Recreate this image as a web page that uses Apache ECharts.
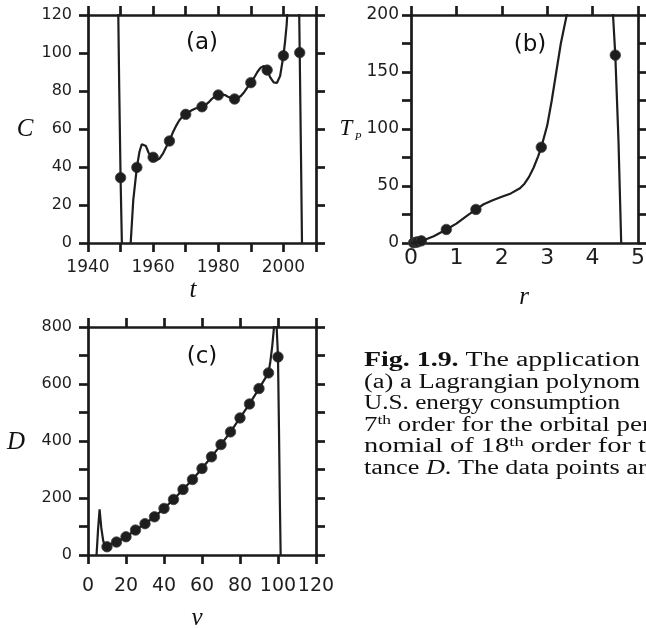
<!DOCTYPE html>
<html>
<head>
<meta charset="utf-8">
<script src="https://cdn.jsdelivr.net/npm/echarts@6/dist/echarts.min.js"></script>
<style>
html,body{margin:0;padding:0;background:#fff;}
#chart{width:646px;height:628px;}
</style>
</head>
<body>
<div id="chart"></div>
<script>
// (a) U.S. energy consumption
var aYears = [1950, 1955, 1960, 1965, 1970, 1975, 1980, 1985, 1990, 1995, 2000, 2005];
var aValues = [34.4, 39.8, 45.1, 53.7, 67.7, 71.7, 77.9, 75.8, 84.4, 91.0, 98.6, 100.2];
// Lagrange curve
var aCurveT = [1948.8, 1949.3, 1949.6, 1950, 1950.4, 1950.8, 1951.5, 1952.3, 1953.1, 1953.9, 1955, 1955.8, 1956.5, 1957, 1957.8, 1958.6, 1959.5, 1960, 1961, 1962, 1963, 1964, 1965, 1966, 1967, 1968, 1969, 1970, 1971, 1972, 1973, 1974, 1975, 1976, 1977, 1978, 1979, 1980, 1981, 1982, 1983, 1984, 1985, 1986, 1987, 1988, 1989, 1990, 1991, 1992, 1993, 1994, 1995, 1996, 1997, 1998, 1999, 2000, 2000.5, 2001, 2001.5, 2002, 2003, 2004, 2004.5, 2005, 2005.4, 2005.7, 2006.2];
var aCurveC = [180, 120, 80, 34.4, 0, -25, -40, -30, 0, 22.6, 39.8, 48, 52, 52.8, 51, 47.5, 45, 44.5, 43.5, 44.5, 47, 50.5, 53.7, 58, 61.5, 64.5, 66.5, 67.7, 69, 70, 70.8, 71.3, 71.7, 72.5, 74, 75.8, 77.2, 77.9, 78.2, 77.9, 77, 76.2, 75.8, 76.2, 77.5, 79.5, 82, 84.4, 87, 90, 92.3, 93.2, 91, 87, 84.5, 84.2, 88, 98.6, 106, 115, 130, 160, 300, 220, 165, 100.2, 45, 0, -60];

// (b) orbital period
var bR = [0.058, 0.108, 0.150, 0.228, 0.778, 1.43, 2.87, 4.50];
var bT = [0.24, 0.62, 1.00, 1.88, 11.86, 29.46, 84.0, 164.8];
var bCurveR = [0, 0.1, 0.25, 0.5, 0.778, 1.0, 1.2, 1.43, 1.6, 1.8, 2.0, 2.2, 2.4, 2.5, 2.6, 2.7, 2.8, 2.87, 3.0, 3.1, 3.2, 3.3, 3.43, 3.6, 4.0, 4.3, 4.45, 4.5, 4.57, 4.63, 4.7];
var bCurveT = [0, 0.6, 2, 6, 11.86, 17, 23, 29.46, 34, 37.5, 40.5, 43.5, 48, 52, 58, 66, 76, 84.0, 103, 125, 150, 175, 200, 260, 400, 320, 200, 164.8, 90, 0, -100];

// (c) distance
var cV = [10, 15, 20, 25, 30, 35, 40, 45, 50, 55, 60, 65, 70, 75, 80, 85, 90, 95, 100];
var cD = [29, 45.5, 64, 87.5, 110, 134, 163.5, 195, 230, 265, 303.5, 344.5, 387.5, 432, 481, 530, 584, 639, 695];
var cCurveV = [4.0, 4.5, 5.3, 6.1, 7.0, 8.0, 9.0, 10, 15, 20, 25, 30, 35, 40, 45, 50, 55, 60, 65, 70, 75, 80, 85, 90, 95, 96, 97, 97.9, 98.6, 99.3, 100, 100.5, 101, 101.4, 101.8];
var cCurveD = [-100, 0, 90, 160, 95, 50, 32, 29, 45.5, 64, 87.5, 110, 134, 163.5, 195, 230, 265, 303.5, 344.5, 387.5, 432, 481, 530, 584, 639, 680, 735, 800, 830, 800, 695, 450, 180, 0, -150];

// caption, cut where the picture cuts it; [text, style] pieces
var capLines = [
    [['Fig. 1.9.', 'b'], [' The application', '']],
    [['(a) a Lagrangian polynom', '']],
    [['U.S. energy consumption', '']],
    [['7', ''], ['th', 's'], [' order for the orbital pe', ''], ['r', '']],
    [['nomial of 18', ''], ['th', 's'], [' order for', ''], [' t', '']],
    [['tance ', ''], ['D', 'i'], ['. The data points a', ''], ['r', '']]
];
var capRight = [640, 640, 620, 642, 631, 638];
var capY = [361, 382.5, 404, 425.5, 447, 468.5];

function pairs(xs, ys) {
    var out = [];
    for (var i = 0; i < xs.length; i++) out.push([xs[i], ys[i]]);
    return out;
}

var INK = '#1a1a1a';
var LW = 2.7;

// bottom / left axis with labels, top / right axis with ticks only
function baseAxis(grid, min, max, step, pos, labelEvery, fontSize, margin, ticks) {
    return {
        type: 'value', gridIndex: grid, position: pos,
        min: min, max: max, interval: step,
        axisLine: {show: true, onZero: false, lineStyle: {color: INK, width: LW}},
        axisTick: {show: ticks !== false, inside: false, length: 9, lineStyle: {color: INK, width: LW}},
        splitLine: {show: false},
        axisLabel: {
            show: true, margin: margin, color: '#1e1e1e',
            fontFamily: 'DejaVu Sans', fontSize: fontSize,
            formatter: function (v) {
                return (Math.round(v / labelEvery * 1000) % 1000 === 0) ? String(v) : '';
            }
        }
    };
}
function frameAxis(grid, min, max, step, pos) {
    return {
        type: 'value', gridIndex: grid, position: pos,
        min: min, max: max, interval: step,
        axisLine: {show: true, onZero: false, lineStyle: {color: INK, width: LW}},
        axisTick: {show: true, inside: false, length: 9, lineStyle: {color: INK, width: LW}},
        splitLine: {show: false},
        axisLabel: {show: false}
    };
}

function lineSeries(xi, data) {
    return {
        type: 'line', xAxisIndex: xi, yAxisIndex: xi, data: data,
        showSymbol: false, clip: true, silent: true, animation: false,
        lineStyle: {color: '#1e1e1e', width: 2.2}
    };
}
function dotSeries(xi, data) {
    return {
        type: 'scatter', xAxisIndex: xi, yAxisIndex: xi, data: data,
        symbolSize: 10.5, silent: true, animation: false, clip: false,
        itemStyle: {color: '#1e1e1e', opacity: 1, borderColor: '#444', borderWidth: 0.8}
    };
}

function label(txt, x, y, size, italic) {
    return {
        type: 'text', x: x, y: y, silent: true,
        style: {
            text: txt, fill: '#111',
            font: (italic ? 'italic ' : '') + size + 'px ' + (italic ? '"Liberation Serif"' : '"DejaVu Sans"'),
            textAlign: 'center', textVerticalAlign: 'middle'
        }
    };
}

var CAP = 20, SUP = 13;
var capFonts = {
    '': CAP + 'px "Liberation Serif"',
    b: 'bold ' + CAP + 'px "Liberation Serif"',
    i: 'italic ' + CAP + 'px "Liberation Serif"',
    s: SUP + 'px "Liberation Serif"'
};
var capRich = {
    b: {fontWeight: 'bold', fontFamily: 'Liberation Serif', fontSize: CAP, fill: '#111'},
    i: {fontStyle: 'italic', fontFamily: 'Liberation Serif', fontSize: CAP, fill: '#111'},
    s: {fontFamily: 'Liberation Serif', fontSize: SUP, fill: '#111', verticalAlign: 'top'}
};
var mctx = document.createElement('canvas').getContext('2d');
function measure(pieces, upto) {
    var w = 0;
    for (var i = 0; i < upto; i++) {
        mctx.font = capFonts[pieces[i][1]];
        w += mctx.measureText(pieces[i][0]).width;
    }
    return w;
}

var graphics = [
    label('(a)', 202, 43, 23, false),
    label('(b)', 530, 45, 23, false),
    label('(c)', 202, 357, 23, false),
    label('C', 25, 129, 25, true),
    label('t', 193, 290, 25, true),
    label('T', 346, 129, 23, true),
    label('P', 358, 137, 11, true),
    label('r', 524, 297, 25, true),
    label('D', 16, 442, 25, true),
    label('v', 197, 618, 25, true)
];
for (var k = 0; k < capLines.length; k++) {
    var pcs = capLines[k];
    // the last piece of a line is only partly in the picture
    var full = pcs.length > 1 && (k >= 3) ? pcs.length - 1 : pcs.length;
    var sx = (capRight[k] - 364) / measure(pcs, full);
    var str = pcs.map(function (p) { return p[1] ? '{' + p[1] + '|' + p[0] + '}' : p[0]; }).join('');
    graphics.push({
        type: 'text', x: 364, y: capY[k], scaleX: sx, silent: true,
        style: {
            text: str, rich: capRich, fill: '#111',
            font: capFonts[''], lineHeight: 22,
            textAlign: 'left', textVerticalAlign: 'middle'
        }
    });
}

var chart = echarts.init(document.getElementById('chart'), null, {renderer: 'canvas'});
chart.setOption({
    backgroundColor: '#fff',
    animation: false,
    grid: [
        {left: 88, top: 15, width: 228, height: 228, outerBoundsMode: 'none'},
        {left: 411, top: 15, width: 227, height: 228, outerBoundsMode: 'none'},
        {left: 88, top: 327, width: 228, height: 228, outerBoundsMode: 'none'}
    ],
    xAxis: [
        baseAxis(0, 1940, 2010, 10, 'bottom', 20, 17, 16),
        frameAxis(0, 1940, 2010, 10, 'top'),
        baseAxis(1, 0, 5, 1, 'bottom', 1, 22, 4, false),
        frameAxis(1, 0, 5, 1, 'top'),
        baseAxis(2, 0, 120, 20, 'bottom', 20, 19, 22),
        frameAxis(2, 0, 120, 20, 'top')
    ],
    yAxis: [
        baseAxis(0, 0, 120, 20, 'left', 20, 16, 16),
        frameAxis(0, 0, 120, 20, 'right'),
        baseAxis(1, 0, 200, 25, 'left', 50, 17, 12),
        frameAxis(1, 0, 200, 25, 'right'),
        baseAxis(2, 0, 800, 100, 'left', 200, 16, 16),
        frameAxis(2, 0, 800, 100, 'right')
    ],
    series: [
        lineSeries(0, pairs(aCurveT, aCurveC)),
        dotSeries(0, pairs(aYears, aValues)),
        lineSeries(2, pairs(bCurveR, bCurveT)),
        dotSeries(2, pairs(bR, bT)),
        lineSeries(4, pairs(cCurveV, cCurveD)),
        dotSeries(4, pairs(cV, cD))
    ],
    graphic: graphics
});
</script>
</body>
</html>
